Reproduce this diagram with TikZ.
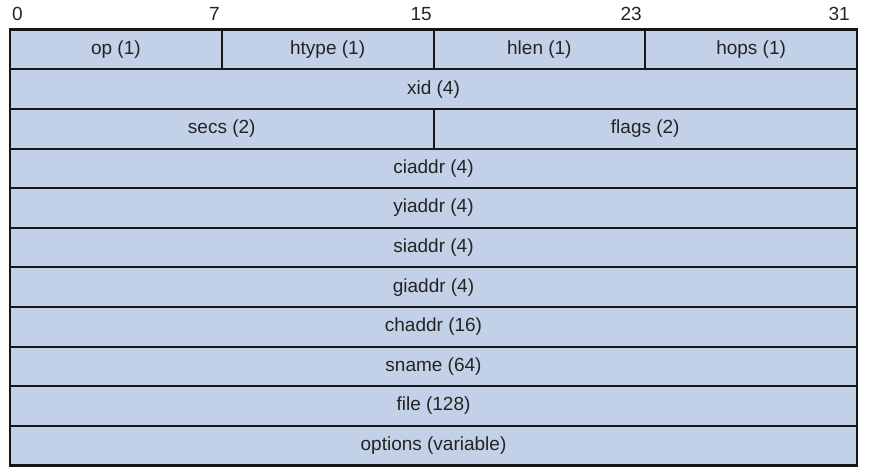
\documentclass[tikz,border=0pt]{standalone}
\usepackage{fontspec}
\setmainfont{Liberation Sans}
\usetikzlibrary{positioning}
\definecolor{fieldblue}{RGB}{195,209,232}
\definecolor{rule}{RGB}{22,22,22}
\definecolor{txt}{RGB}{35,35,35}
\tikzset{
	field/.style={draw=rule, fill=fieldblue, line width=2pt, inner sep=0pt, outer sep=0pt,
		minimum height=39.6pt, text=txt, font=\fontsize{19}{21}\selectfont},
	quarter/.style={field, minimum width=211.75pt},
	half/.style={field, minimum width=423.5pt},
	whole/.style={field, minimum width=847pt},
	bit/.style={text=txt, inner sep=0pt, font=\fontsize{19}{21}\selectfont}
}
\begin{document}
\begin{tikzpicture}[x=1pt, y=-1pt]
				\useasboundingbox (0,0) rectangle (875,476);
				
				%----------------------------------------------------------------
				\node(b0) [bit, anchor=base west] at (12,21) {0};
				\node(b7) [bit, anchor=base east] at (220,21) {7};
				\node(b15) [bit, anchor=base east] at (432,21) {15};
				\node(b23) [bit, anchor=base east] at (642,21) {23};
				\node(b31) [bit, anchor=base east] at (850,21) {31};
				
				%----------------------------------------------------------------
				\node(op) [quarter, anchor=north west] at (10,29.8) {op (1)};
				\node(htype) [quarter, right=0pt of op] {htype (1)};
				\node(hlen) [quarter, right=0pt of htype] {hlen (1)};
				\node(hops) [quarter, right=0pt of hlen] {hops (1)};
				
				\node(xid) [whole, anchor=north west] at (op.south west) {xid (4)};
				
				\node(secs) [half, anchor=north west] at (xid.south west) {secs (2)};
				\node(flags) [half, right=0pt of secs] {flags (2)};
				
				%----------------------------------------------------------------
				\node(ciaddr) [whole, anchor=north west] at (secs.south west) {ciaddr (4)};
				\node(yiaddr) [whole, below=0pt of ciaddr] {yiaddr (4)};
				\node(siaddr) [whole, below=0pt of yiaddr] {siaddr (4)};
				\node(giaddr) [whole, below=0pt of siaddr] {giaddr (4)};
				\node(chaddr) [whole, below=0pt of giaddr] {chaddr (16)};
				\node(sname) [whole, below=0pt of chaddr] {sname (64)};
				\node(file) [whole, below=0pt of sname] {file (128)};
				\node(options) [whole, below=0pt of file] {options (variable)};
				
				%----------------------------------------------------------------
				\draw [rule, line width=2.6pt] (op.north west) rectangle (options.south east);
				
\end{tikzpicture}
\end{document}
